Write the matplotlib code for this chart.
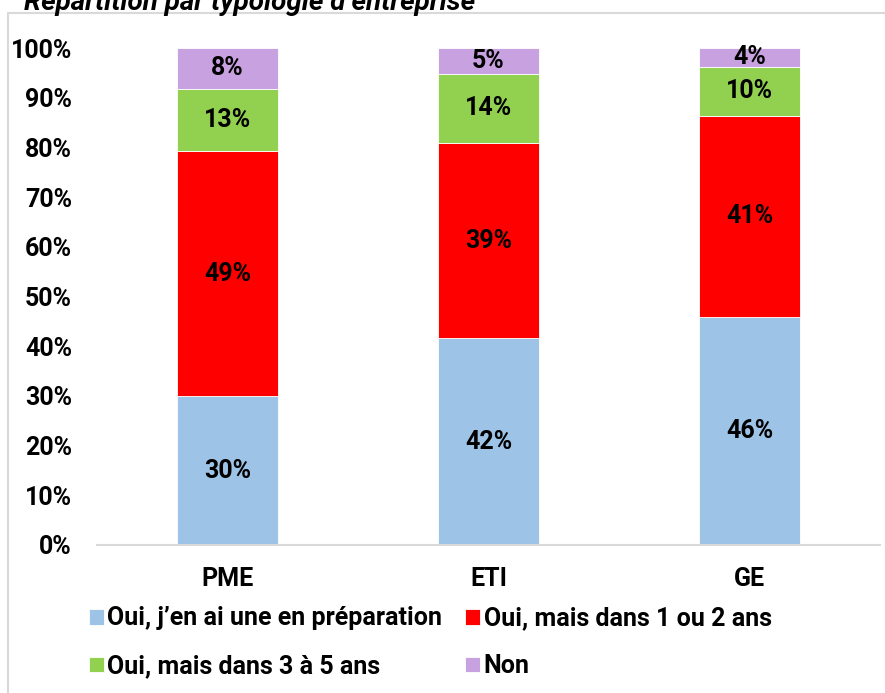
import numpy as np
import matplotlib
matplotlib.use("Agg")
import matplotlib.pyplot as plt
from matplotlib.patches import Rectangle

plt.rcParams['font.family'] = ['Roboto', 'DejaVu Sans']
plt.rcParams['font.weight'] = 'bold'

categories = ["PME", "ETI", "GE"]
series = ["Oui, j\u2019en ai une en préparation", "Oui, mais dans 1 ou 2 ans",
          "Oui, mais dans 3 à 5 ans", "Non"]
# shares in %, bottom to top
prep = [29.9, 41.6, 45.8]
ans_1_2 = [49.3, 39.3, 40.6]
ans_3_5 = [12.6, 13.9, 9.8]
non = [8.2, 5.2, 3.8]
colors = ["#9DC3E6", "#FF0000", "#92D050", "#C8A2E0"]

values = [prep, ans_1_2, ans_3_5, non]
fs = 18

W, H = 885, 693
fig = plt.figure(figsize=(W / 100, H / 100), dpi=100)
ax = fig.add_axes([97 / W, (H - 545) / H, (880 - 97) / W, (545 - 48) / H])

x = np.arange(len(categories))
bottom = np.zeros(len(categories))
bars = []
for vals, col, lab in zip(values, colors, series):
    v = np.array(vals) / 100
    b = ax.bar(x, v, 0.39, bottom=bottom, color=col, edgecolor='white',
               linewidth=0.6, label=lab)
    bars.append(b)
    for xi, yi, bi in zip(x, v, bottom):
        ax.text(xi, bi + yi / 2, f"{round(yi * 100):.0f}%", ha='center',
                va='center', fontsize=fs, fontweight='bold', color='black')
    bottom += v

ax.set_xlim(-0.5, 2.5)
ax.set_ylim(0, 1)
ticks = np.arange(0, 1.01, 0.1)
ax.set_yticks(ticks)
ax.set_yticklabels([f"{int(round(t * 100))}%" for t in ticks])
ax.set_xticks(x)
ax.set_xticklabels(categories)
ax.tick_params(axis='both', length=0, labelsize=fs)
ax.tick_params(axis='y', pad=18)
ax.tick_params(axis='x', pad=16)
for side in ['top', 'right', 'left']:
    ax.spines[side].set_visible(False)
ax.spines['bottom'].set_color('#d9d9d9')
ax.spines['bottom'].set_linewidth(1.5)

# legend filled row by row: blue, red / green, purple
order = [0, 2, 1, 3]
ax.legend(handles=[bars[i] for i in order], loc='upper left',
          bbox_to_anchor=(76 / W, 1 - 594 / H),
          bbox_transform=fig.transFigure, ncol=2, frameon=False, fontsize=fs,
          handlelength=0.6, handleheight=0.6, handletextpad=0.15,
          columnspacing=0.9, labelspacing=0.95, borderpad=0)

# outer frame of the chart area
fig.patches.append(Rectangle((8 / W, -0.05), 1.2, 1.05 - 13 / H,
                             transform=fig.transFigure, fill=False,
                             edgecolor='#d9d9d9', linewidth=1.5))

fig.text(475 / W, 1 - 10 / H, "Répartition par typologie d\u2019entreprise",
         ha='right', va='baseline', fontsize=20, fontweight='bold',
         fontstyle='italic')

fig.savefig("out.png", dpi=100)
